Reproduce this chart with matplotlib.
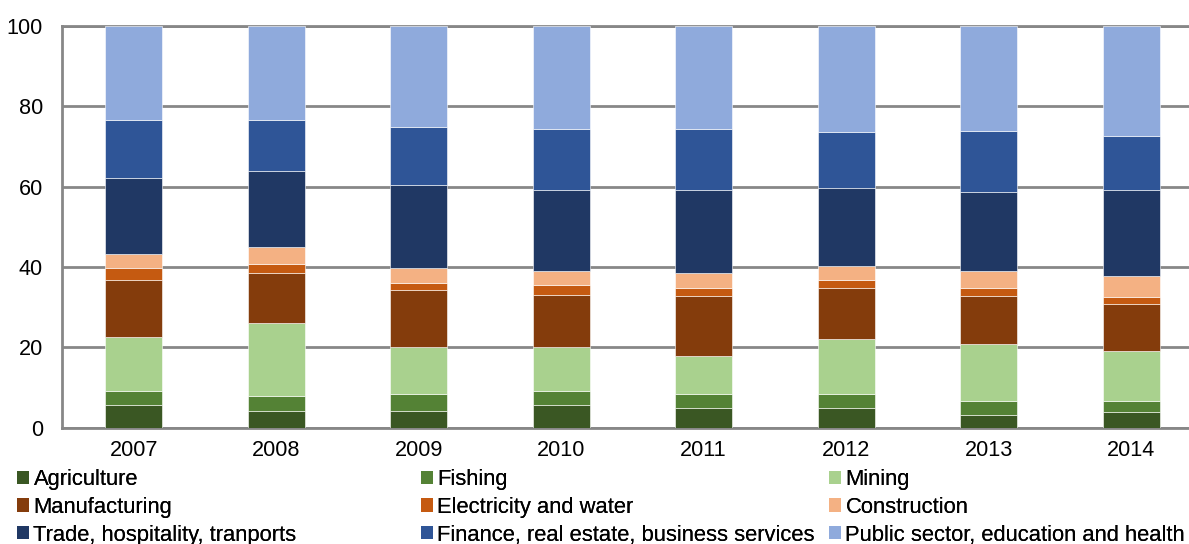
import numpy as np
import matplotlib.pyplot as plt
from matplotlib.patches import Patch

plt.rcParams['font.family'] = ['Liberation Sans', 'DejaVu Sans']

years = ['2007', '2008', '2009', '2010', '2011', '2012', '2013', '2014']
sectors = ['Agriculture', 'Fishing', 'Mining', 'Manufacturing',
           'Electricity and water', 'Construction',
           'Trade, hospitality, tranports',
           'Finance, real estate, business services',
           'Public sector, education and health']

# share of each sector, % (one list per sector, one value per year)
agriculture = [5.6, 4.2, 4.2, 5.6, 5.0, 5.0, 3.2, 3.8]
fishing = [3.5, 3.7, 4.2, 3.5, 3.5, 3.5, 3.5, 2.9]
mining = [13.5, 18.2, 11.8, 11.1, 9.4, 13.5, 14.2, 12.5]
manufacturing = [14.1, 12.3, 14.2, 12.9, 14.8, 12.9, 11.8, 11.7]
electricity = [3.0, 2.3, 1.7, 2.4, 2.2, 1.8, 2.2, 1.7]
construction = [3.5, 4.3, 3.6, 3.6, 3.5, 3.5, 4.2, 5.2]
trade = [18.9, 18.8, 20.6, 20.0, 20.7, 19.5, 19.5, 21.3]
finance = [14.6, 12.9, 14.6, 15.3, 15.3, 14.0, 15.2, 13.5]
public = [23.3, 23.3, 25.1, 25.6, 25.6, 26.3, 26.2, 27.4]

colors = ['#3A5723', '#548235', '#A9D18E', '#843C0C', '#C55A11',
          '#F4B183', '#203864', '#2F5597', '#8FAADC']

series = [agriculture, fishing, mining, manufacturing, electricity,
          construction, trade, finance, public]

W, H = 1189, 544
fig = plt.figure(figsize=(W / 100, H / 100), dpi=100)
ax = fig.add_axes([62.4 / W, (H - 427.7) / H, 1140 / W, 401.7 / H])

x = np.arange(len(years))
bottom = np.zeros(len(years))
for vals, col in zip(series, colors):
    ax.bar(x, vals, 0.4, bottom=bottom, color=col,
           edgecolor='#ffffff', linewidth=0.4, zorder=3)
    bottom += np.array(vals)

ax.set_xlim(-0.5, len(years) - 0.5)
ax.set_ylim(0, 100)
ax.set_yticks([0, 20, 40, 60, 80, 100])
ax.set_xticks(x)
ax.set_xticklabels(years)
ax.yaxis.grid(True, color='#878787', linewidth=2, zorder=0)
ax.set_axisbelow(True)
for s in ['top', 'left', 'bottom']:
    ax.spines[s].set_color('#878787')
    ax.spines[s].set_linewidth(2)
ax.spines['right'].set_visible(False)
ax.tick_params(length=0, labelsize=15.6, colors='#000000')
ax.tick_params(axis='y', pad=14)
ax.tick_params(axis='x', pad=9)

# legend laid out row by row in three columns
handles = [Patch(facecolor=c, edgecolor='none') for c in colors]
col_x = [17, 421, 829]
for j in range(3):
    idx = [j, j + 3, j + 6]
    leg = fig.legend([handles[i] for i in idx], [sectors[i] for i in idx],
                     loc='upper left', bbox_to_anchor=(col_x[j] / W, 1 - 469 / H),
                     frameon=False, fontsize=15.8, handlelength=0.55,
                     handleheight=0.55, handletextpad=0.2, labelspacing=0.31,
                     borderpad=0, borderaxespad=0)
    fig.add_artist(leg)

fig.savefig('out.png', dpi=100)
